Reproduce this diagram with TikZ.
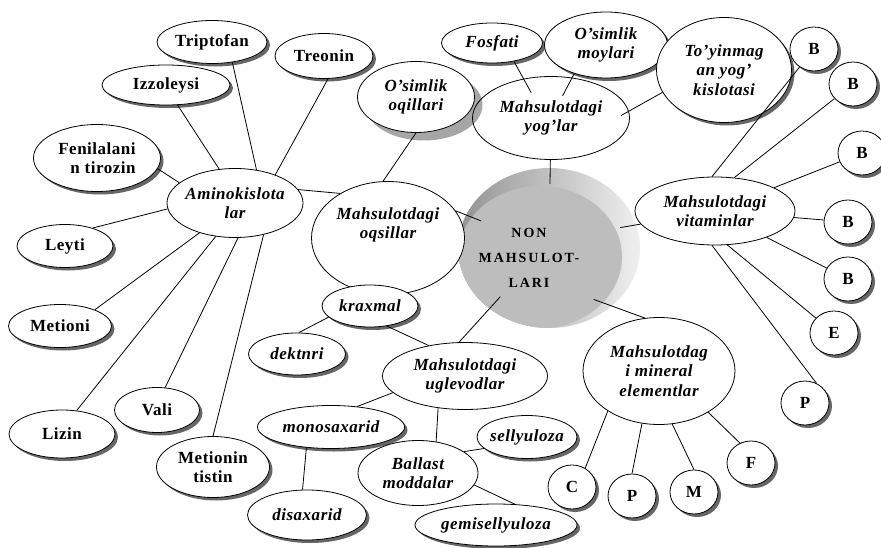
\documentclass[tikz,border=0pt]{standalone}
\usepackage{fontspec}
\setmainfont{Liberation Serif}[LetterSpace=3]
\newfontfamily\spacedfont{Liberation Serif}[LetterSpace=14]
\usetikzlibrary{shapes.geometric, shadows}

\begin{document}
\begin{tikzpicture}[
        x=1pt, y=-1pt,
        dims/.style 2 args={minimum width=#1pt, minimum height=#2pt},
        base/.style={ellipse, draw, fill=white, line width=0.8pt, inner xsep=-4pt, inner ysep=0pt, align=center, font=\fontsize{17}{19.5}\selectfont\bfseries},
        topic/.style={base, font=\fontsize{17}{19.5}\selectfont\bfseries\itshape},
        acid/.style={base, drop shadow={shadow xshift=3pt, shadow yshift=-3pt, fill=black, opacity=0.6}},
        part/.style={topic, drop shadow={shadow xshift=3pt, shadow yshift=-3pt, fill=black, opacity=0.6}},
        elem/.style={acid, dims={48}{44}},
        capt/.style={align=center, font=\fontsize{17}{19.5}\selectfont\bfseries\itshape},
        link/.style={line width=0.8pt}
    ]
        \useasboundingbox (0,0) rectangle (881,548);

        % Centre
        \node[ellipse, dims={182}{160}, outer sep=-16pt, left color=gray!85, right color=gray!12,
              path picture={\fill[gray!52] ([xshift=-9pt, yshift=-9pt]path picture bounding box.center) ellipse [x radius=82pt, y radius=71pt];},
              label={[align=center, font=\spacedfont\bfseries\fontsize{14}{25}\selectfont, xshift=-20pt, yshift=-10pt]center:{NON\\MAHSULOT-\\LARI}}] (non) at (549,248) {};

        % Aminokislotalar
        \node[topic, dims={136}{69}] (amino) at (235,203) {Aminokislota\\lar};
        \node[acid, dims={110}{43}] (tripto) at (212,42) {Triptofan};
        \node[acid, dims={128}{40}] (izzo) at (166,85) {Izzoleysi};
        \node[acid, dims={98}{45}] (treo) at (324,56) {Treonin};
        \node[acid, dims={127}{67}] (fenil) at (97,158) {Fenilalani\\\hspace*{12pt}n tirozin};
        \node[acid, dims={96}{43}] (leyti) at (65,246) {Leyti};
        \node[acid, dims={103}{43}] (metioni) at (60,326) {Metioni};
        \node[acid, dims={106}{48}] (lizin) at (62,434) {Lizin};
        \node[acid, dims={85}{45}] (vali) at (157,410) {Vali};
        \node[acid, dims={113}{61}] (metionin) at (213,467) {Metionin\\tistin};

        % Oqsillar
        \node[topic, dims={153}{113}, label={[capt, yshift=13pt]center:{Mahsulotdagi\\oqsillar}}] (oqs) at (388,238) {};
        \node[part, dims={96}{42}] (krax) at (370,306) {kraxmal};
        \node[part, dims={97}{42}] (dekt) at (297,354) {dektnri};

        % Yog'lar
        \node[topic, dims={157}{83}] (yog) at (551,118) {Mahsulotdagi\\yog’lar};
        \node[topic, dims={117}{71}, drop shadow={shadow xshift=8pt, shadow yshift=-8pt, fill=black, opacity=0.35}] (oql) at (416,97) {O’simlik\\oqillari};
        \node[part, dims={101}{40}] (fos) at (492,43) {Fosfati};
        \node[part, dims={123}{66}] (moy) at (606,45) {O’simlik\\moylari};
        \node[part, dims={135}{105}] (toy) at (724,70) {To’yinmag\\an yog’\\kislotasi};

        % Uglevodlar
        \node[topic, dims={165}{67}] (ugl) at (465,376) {Mahsulotdagi\\uglevodlar};
        \node[part, dims={147}{43}] (mono) at (331,427) {monosaxarid};
        \node[part, dims={119}{50}] (disa) at (307,515) {disaxarid};
        \node[part, dims={100}{43}] (sell) at (527,437) {sellyuloza};
        \node[topic, dims={120}{65}] (ballast) at (418,473) {Ballast\\moddalar};
        \node[part, dims={162}{42}] (gemi) at (496,525) {gemisellyuloza};

        % Vitaminlar
        \node[topic, dims={160}{68}] (vit) at (715,211) {Mahsulotdagi\\vitaminlar};
        \node[elem] (b1) at (814,49) {B};
        \node[elem] (b2) at (853,84) {B};
        \node[elem] (b3) at (862,153) {B};
        \node[elem] (b4) at (848,222) {B};
        \node[elem] (b5) at (848,279) {B};
        \node[elem] (evit) at (834,333) {E};
        \node[elem] (pvit) at (805,403) {P};

        % Mineral elementlar
        \node[topic, dims={152}{107}] (mineral) at (659,371) {Mahsulotdag\\i mineral\\elementlar};
        \node[elem] (cmin) at (572,487) {C};
        \node[elem] (pmin) at (632,496) {P};
        \node[elem] (mmin) at (694,492) {M};
        \node[elem] (fmin) at (751,463) {F};

        % Links
        \draw[link] (tripto.-45) -- (amino.57);
        \draw[link] (izzo.-60) -- (amino.115);
        \draw[link] (treo.-80) -- (amino.35);
        \draw[link] (fenil.-10) -- (amino.160);
        \draw[link] (leyti.33) -- (amino.185);
        \draw[link] (metioni.25) -- (amino.-140);
        \draw[link] (lizin.58) -- (amino.-120);
        \draw[link] (vali.70) -- (amino.-85);
        \draw[link] (metionin.90) -- (amino.-48);
        \draw[link] (amino.12) -- (oqs.137);
        \draw[link] (oql.-90) -- (oqs.95);
        \draw[link] (oqs.22) -- (non);
        \draw[link] (krax.-165) -- (dekt.85);
        \draw[link] (krax.-50) -- (ugl.140);
        \draw[link] (ugl.100) -- (non.-135);
        \draw[link] (ugl.-167) -- (mono.38);
        \draw[link] (ugl.-130) -- (ballast.60);
        \draw[link] (mono.-140) -- (disa.100);
        \draw[link] (ballast.25) -- (sell.-165);
        \draw[link] (ballast.-12) -- (gemi.48);
        \draw[link] (yog) -- (non);
        \draw[link, shorten >=-16pt] (fos.-40) -- (yog.125);
        \draw[link, shorten >=25pt] (moy.-138) -- (yog.center);
        \draw[link, shorten >=-9pt] (toy.-160) -- (yog.5);
        \draw[link] (vit.190) -- (non.16);
        \draw[link] (vit.95) -- (b1);
        \draw[link] (vit.60) -- (b2);
        \draw[link] (vit) -- (b3);
        \draw[link] (vit) -- (b4);
        \draw[link] (vit) -- (b5);
        \draw[link] (vit.-70) -- (evit);
        \draw[link] (vit.-95) -- (pvit.60);
        \draw[link] (mineral.105) -- (non.-49);
        \draw[link] (mineral.-142) -- (cmin.55);
        \draw[link] (mineral.-108) -- (pmin.90);
        \draw[link] (mineral.-76) -- (mmin.90);
        \draw[link] (mineral.-40) -- (fmin.119);
    \end{tikzpicture}
\end{document}
